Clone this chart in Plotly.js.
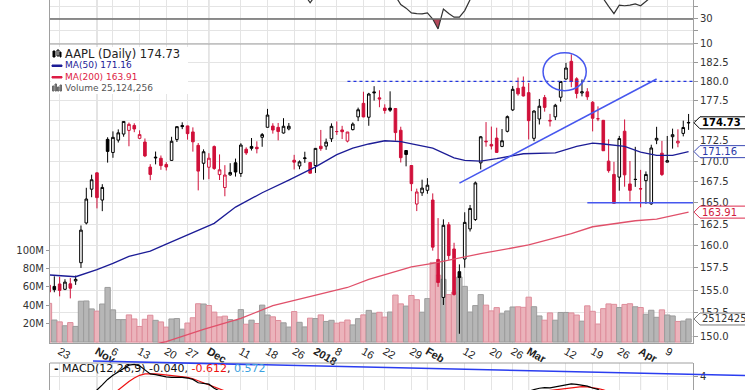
<!DOCTYPE html>
<html><head><meta charset="utf-8">
<script src="https://cdn.plot.ly/plotly-3.0.1.min.js"></script>
<style>html,body{margin:0;padding:0;background:#fff;}#chart{width:745px;height:390px;}</style>
</head><body><div id="chart"></div>
<script>
// ---------------- DATA ----------------
const dates = [
'2017-10-19','2017-10-20','2017-10-23','2017-10-24','2017-10-25','2017-10-26','2017-10-27','2017-10-30','2017-10-31',
'2017-11-01','2017-11-02','2017-11-03','2017-11-06','2017-11-07','2017-11-08','2017-11-09','2017-11-10','2017-11-13','2017-11-14','2017-11-15','2017-11-16','2017-11-17','2017-11-20','2017-11-21','2017-11-22','2017-11-24','2017-11-27','2017-11-28','2017-11-29','2017-11-30',
'2017-12-01','2017-12-04','2017-12-05','2017-12-06','2017-12-07','2017-12-08','2017-12-11','2017-12-12','2017-12-13','2017-12-14','2017-12-15','2017-12-18','2017-12-19','2017-12-20','2017-12-21','2017-12-22','2017-12-26','2017-12-27','2017-12-28','2017-12-29',
'2018-01-02','2018-01-03','2018-01-04','2018-01-05','2018-01-08','2018-01-09','2018-01-10','2018-01-11','2018-01-12','2018-01-16','2018-01-17','2018-01-18','2018-01-19','2018-01-22','2018-01-23','2018-01-24','2018-01-25','2018-01-26','2018-01-29','2018-01-30','2018-01-31',
'2018-02-01','2018-02-02','2018-02-05','2018-02-06','2018-02-07','2018-02-08','2018-02-09','2018-02-12','2018-02-13','2018-02-14','2018-02-15','2018-02-16','2018-02-20','2018-02-21','2018-02-22','2018-02-23','2018-02-26','2018-02-27','2018-02-28',
'2018-03-01','2018-03-02','2018-03-05','2018-03-06','2018-03-07','2018-03-08','2018-03-09','2018-03-12','2018-03-13','2018-03-14','2018-03-15','2018-03-16','2018-03-19','2018-03-20','2018-03-21','2018-03-22','2018-03-23','2018-03-26','2018-03-27','2018-03-28','2018-03-29',
'2018-04-02','2018-04-03','2018-04-04','2018-04-05','2018-04-06','2018-04-09','2018-04-10','2018-04-11','2018-04-12','2018-04-13'];

const open = [
155.56,155.42,155.69,155.10,155.71,156.03,158.08,162.64,166.62,
168.58,165.33,172.67,171.06,172.58,173.33,173.78,174.40,172.80,172.34,169.28,170.49,170.35,169.60,170.09,172.66,174.39,174.34,173.59,171.93,169.74,
169.26,171.78,168.37,166.82,168.34,169.80,168.51,171.45,171.80,171.70,172.93,174.17,174.32,174.16,173.46,173.97,170.11,169.41,170.31,169.83,
169.47,171.83,171.84,172.74,173.64,173.84,172.46,173.88,175.47,177.18,175.43,178.64,177.88,176.58,176.58,176.53,173.80,171.30,169.47,164.86,166.19,
166.49,165.33,158.45,154.20,162.43,159.64,157.07,158.50,161.95,163.04,169.79,172.36,172.05,172.83,171.80,173.67,176.35,179.10,179.26,
178.54,172.80,175.21,177.91,174.94,175.48,177.96,180.29,182.59,180.32,178.50,178.65,177.32,175.24,175.04,170.00,168.39,168.07,173.68,167.25,167.81,
166.64,167.64,164.88,172.58,170.97,169.88,173.00,172.23,173.41,174.78];
const high = [
155.88,156.55,156.49,156.22,156.35,156.63,162.35,166.79,168.36,
168.65,167.22,172.93,173.66,173.91,174.90,174.76,174.67,173.79,172.78,169.63,171.17,170.69,169.87,172.99,174.29,174.79,174.37,174.16,172.22,171.44,
170.97,171.92,170.82,169.51,169.75,170.31,172.19,171.69,172.84,172.43,173.46,176.48,174.68,174.71,175.31,174.71,170.77,170.09,171.15,169.90,
171.60,173.84,172.77,174.66,174.90,174.35,173.59,174.78,176.64,178.66,178.52,179.37,178.85,177.06,178.71,176.58,174.24,171.30,169.47,166.69,167.76,
167.94,166.12,163.21,163.06,162.74,160.35,157.89,163.89,164.75,167.54,173.09,174.82,174.26,174.12,173.95,175.65,179.39,180.48,180.62,
179.78,176.30,177.74,178.25,175.85,177.12,180.00,182.39,183.50,180.52,180.24,179.12,177.47,176.80,175.09,172.68,169.92,173.10,175.15,170.02,171.75,
168.94,168.75,172.01,174.23,172.48,173.09,174.00,173.92,175.00,175.84];
const low = [
153.84,154.77,154.32,155.01,154.09,155.59,157.49,162.47,165.67,
164.35,164.02,169.82,170.41,172.28,173.00,171.82,173.56,172.70,170.49,167.70,169.61,168.95,168.87,170.09,172.35,173.94,172.64,171.16,166.48,167.76,
167.82,168.94,167.72,165.78,168.22,168.13,168.10,170.76,171.30,170.95,171.76,174.15,173.38,172.55,173.39,173.79,168.99,169.02,169.79,168.53,
168.57,171.26,171.38,172.35,173.22,172.71,172.30,173.78,174.94,175.42,174.36,177.53,176.69,175.88,176.10,172.50,169.84,169.37,166.39,164.03,165.82,
166.08,159.45,155.37,153.37,158.42,154.40,150.24,157.51,161.65,162.88,169.00,171.77,171.42,171.01,171.71,173.54,176.21,178.16,178.05,
172.66,172.45,174.52,176.13,174.27,175.07,177.39,180.21,179.24,177.81,178.07,177.62,173.66,174.94,171.26,168.60,164.94,166.44,166.92,165.19,166.90,
164.47,164.88,164.77,172.08,168.20,169.85,171.53,171.70,173.04,173.85];
const close = [
154.79,155.06,154.98,155.90,155.22,156.21,161.81,165.45,167.75,
165.62,166.83,171.19,172.92,173.48,174.90,174.54,173.96,173.26,170.64,168.39,170.41,169.46,169.29,172.44,174.25,174.26,173.38,172.37,168.79,171.15,
170.36,169.11,168.95,168.32,168.63,168.68,171.97,171.00,171.57,171.52,173.26,175.70,173.83,173.64,174.30,174.30,169.88,169.91,170.39,168.54,
171.56,171.53,172.33,174.29,173.64,173.62,173.58,174.57,176.37,175.47,178.37,178.53,177.74,176.28,176.32,173.51,170.42,170.81,167.28,166.29,166.75,
167.10,159.85,155.85,162.37,158.89,154.52,156.41,162.71,164.34,167.37,172.99,172.43,171.85,171.07,172.50,175.50,178.97,178.39,178.12,
175.00,176.21,176.82,176.67,175.03,176.94,179.98,181.72,179.97,178.44,178.65,178.02,175.30,175.24,171.27,168.85,164.94,172.77,168.34,166.48,167.78,
166.68,168.39,171.61,172.80,168.38,170.05,173.25,172.44,174.14,174.73];
// volume, millions of shares
const volume = [
42.1,23.97,21.98,17.76,21.21,17.03,44.45,44.70,36.05,
33.64,41.39,59.40,35.03,24.42,24.41,29.53,25.13,16.98,24.78,29.20,23.64,21.90,16.26,25.13,25.59,14.03,20.72,26.43,41.67,41.39,
39.76,32.54,27.35,28.22,24.47,23.38,35.27,19.41,23.82,20.22,40.17,29.42,27.44,23.48,20.95,16.35,33.19,21.50,16.48,25.99,
25.56,29.52,22.43,23.66,20.57,21.58,23.96,18.67,25.42,29.57,34.45,31.25,32.37,27.11,32.69,51.11,41.53,39.14,50.64,46.05,32.48,
47.23,86.59,72.74,68.24,51.61,54.39,70.67,60.56,32.70,39.67,51.61,40.18,33.93,37.47,30.81,33.81,38.16,38.36,37.78,
48.80,38.45,28.40,23.79,31.70,23.79,32.19,32.21,31.68,29.37,22.74,39.40,33.45,19.65,36.34,41.49,41.03,37.54,40.92,41.67,38.40,
37.59,30.28,34.61,26.93,35.01,29.47,28.40,22.43,22.89,25.124256];

const ma50Dates = ['2017-10-19','2017-10-26','2017-11-01','2017-11-06','2017-11-09','2017-11-15','2017-11-20','2017-11-24','2017-11-29','2017-12-04','2017-12-08','2017-12-15','2017-12-22','2018-01-02','2018-01-08','2018-01-11','2018-01-17','2018-01-22','2018-01-25','2018-02-02','2018-02-08','2018-02-12','2018-02-15','2018-02-21','2018-02-28','2018-03-08','2018-03-14','2018-03-19','2018-03-21','2018-03-27','2018-04-02','2018-04-05','2018-04-10','2018-04-13'];
const ma50Values = [156.7,156.5,157.3,158.0,158.8,159.4,160.2,161.0,161.8,162.6,164.5,166.2,167.7,169.3,170.8,171.6,172.1,172.5,172.4,171.6,170.4,170.1,170.0,170.3,170.9,171.0,171.8,172.2,172.1,171.8,171.1,170.7,170.7,171.16];
const ma200Dates = ['2017-11-14','2017-11-20','2017-11-30','2017-12-11','2017-12-19','2018-01-02','2018-01-10','2018-01-17','2018-01-29','2018-02-02','2018-02-15','2018-03-01','2018-03-13','2018-03-19','2018-03-29','2018-04-05','2018-04-13'];
const ma200Values = [148.9,149.4,150.7,151.9,153.3,154.4,155.3,156.2,157.6,158.0,159.1,160.1,161.4,162.2,162.9,163.1,163.91];

const rsiDates = ['2017-12-27','2017-12-28','2017-12-29','2018-01-02','2018-01-03','2018-01-04',
'2018-01-23','2018-01-24','2018-01-25','2018-01-26','2018-01-29','2018-01-30','2018-01-31','2018-02-01','2018-02-02','2018-02-05','2018-02-06','2018-02-07','2018-02-08','2018-02-09','2018-02-12','2018-02-13','2018-02-14','2018-02-15','2018-02-16',
'2018-03-20','2018-03-21','2018-03-22','2018-03-23','2018-03-26','2018-03-27','2018-03-28','2018-03-29','2018-04-02','2018-04-03','2018-04-04','2018-04-05','2018-04-06'];
const rsiValues = [55,50,43.5,51,56,null,
56,49,42,39,35,34.5,34.2,35,30,21.7,38.3,34.5,31.5,31.5,37,46,52,58,null,
55,47,40.5,34.5,41.5,41,41.5,42.5,41,44,47,52,56];

// MACD(12,26,9): two visible stretches
const macdDatesA = ['2017-10-31','2017-11-01','2017-11-02','2017-11-03','2017-11-06','2017-11-07','2017-11-08','2017-11-09','2017-11-10','2017-11-13','2017-11-14','2017-11-15','2017-11-16','2017-11-17','2017-11-20','2017-11-21','2017-11-22','2017-11-24','2017-11-27','2017-11-28','2017-11-29','2017-11-30','2017-12-01','2017-12-04','2017-12-05','2017-12-06'];
const macdA   = [2.5,2.97,3.35,3.75,4.05,4.3,4.6,4.8,4.85,4.75,4.45,4.15,4.1,4.0,3.93,3.9,3.92,3.9,3.85,3.75,3.5,3.45,3.4,3.1,2.9,2.7];
const signalA = [1.6,1.85,2.05,2.3,2.65,2.97,3.3,3.6,3.85,4.05,4.15,4.18,4.16,4.12,4.08,4.03,3.99,3.95,3.9,3.8,3.65,3.5,3.35,3.2,3.05,2.9];
const macdDatesB = ['2018-02-28','2018-03-01','2018-03-02','2018-03-05','2018-03-06','2018-03-07','2018-03-08','2018-03-09','2018-03-12','2018-03-13','2018-03-14','2018-03-15','2018-03-16','2018-03-19','2018-03-20','2018-03-21','2018-03-22'];
const macdB   = [2.75,2.9,3.0,3.1,3.15,3.12,3.2,3.3,3.38,3.42,3.38,3.32,3.26,3.12,3.02,2.7,2.4];
const signalB = [2.7,2.75,2.8,2.85,2.88,2.9,2.95,3.0,3.08,3.15,3.2,3.22,3.2,3.15,3.08,2.98,2.85];

const tickDates = ['2017-10-23','2017-11-01','2017-11-06','2017-11-13','2017-11-20','2017-11-27','2017-12-01','2017-12-11','2017-12-18','2017-12-26','2018-01-02','2018-01-08','2018-01-16','2018-01-22','2018-01-29','2018-02-01','2018-02-12','2018-02-20','2018-02-26','2018-03-01','2018-03-12','2018-03-19','2018-03-26','2018-04-02','2018-04-09'];
const tickLabels = ['23','Nov','6','13','20','27','Dec','11','18','26','2018','8','16','22','29','Feb','12','20','26','Mar','12','19','26','Apr','9'];
const monthStarts = ['Nov','Dec','2018','Feb','Mar','Apr'];

const priceTicks = [150,152.5,155,157.5,160,162.5,165,167.5,170,172.5,175,177.5,180,182.5];
const hiddenPriceTicks = [175];   // covered by the last-price tag
const volTicks = [20,40,60,80,100];

const lastClose = 174.73, lastMA50 = 171.16, lastMA200 = 163.91, lastVolume = 25124256;
const macdTitle = ['-0.040','-0.612','0.572'];

// user drawn annotations (data coords)
const resistanceLevel = 180.0, resistanceFrom = '2018-01-10';
const supportLevel = 165.0, supportFrom = '2018-03-16';
const trendFrom = ['2018-02-09',167.35], trendTo = ['2018-04-05',180.3];
const ringDates = ['2018-03-06','2018-03-16'], ringPrices = [178.8,183.7];

// ---------------- BUILD ----------------
const N = dates.length;
const xi = d => dates.indexOf(d);
const xs = dates.map((d,i)=>i);
const isRed = close.map((c,i)=> i===0 ? c<open[i] : c<close[i-1]);
const RED='#d0103a', BLACK='#000';

function candleSet(flag,color){
  const o={x:[],open:[],high:[],low:[],close:[]};
  for(let i=0;i<N;i++) if(isRed[i]===flag){o.x.push(i);o.open.push(open[i]);o.high.push(high[i]);o.low.push(low[i]);o.close.push(close[i]);}
  return Object.assign(o,{type:'candlestick',xaxis:'x',yaxis:'y2',whiskerwidth:0,hoverinfo:'skip',showlegend:false,
    increasing:{line:{color:color,width:1},fillcolor:'#ffffff'},
    decreasing:{line:{color:color,width:1},fillcolor:color}});
}

const traces=[];
traces.push({type:'bar',x:xs,y:volume,xaxis:'x',yaxis:'y',hoverinfo:'skip',showlegend:false,
  marker:{color:xs.map(i=>isRed[i]?'#ebb3bb':'#b6b6b6'),line:{color:xs.map(i=>isRed[i]?'#de8d9b':'#9c9c9c'),width:1}}});
traces.push({type:'scatter',mode:'lines',x:ma200Dates.map(xi),y:ma200Values,xaxis:'x',yaxis:'y2',line:{color:'#e0506a',width:1.3},hoverinfo:'skip',showlegend:false});
traces.push({type:'scatter',mode:'lines',x:ma50Dates.map(xi),y:ma50Values,xaxis:'x',yaxis:'y2',line:{color:'#1c1c96',width:1.3},hoverinfo:'skip',showlegend:false});
traces.push(candleSet(false,BLACK));
traces.push(candleSet(true,RED));

// RSI fill below 30
const rx=rsiDates.map(xi);
const fx=[],fy=[];
for(let k=1;k<rx.length;k++){
  const a=rsiValues[k-1],b=rsiValues[k];
  if(a==null||b==null) continue;
  if(a>=30&&b>=30) continue;
  let xa=rx[k-1],ya=a,xb=rx[k],yb=b;
  if(a>30){xa=rx[k-1]+(a-30)/(a-b)*(rx[k]-rx[k-1]);ya=30;}
  if(b>30){xb=rx[k-1]+(a-30)/(a-b)*(rx[k]-rx[k-1]);yb=30;}
  fx.push(xa,xa,xb,xb,null);fy.push(30,ya,yb,30,null);
}
traces.push({type:'scatter',mode:'lines',x:fx,y:fy,fill:'toself',fillcolor:'#b4475a',line:{width:0},xaxis:'x',yaxis:'y4',hoverinfo:'skip',showlegend:false});
traces.push({type:'scatter',mode:'lines',x:rx,y:rsiValues,xaxis:'x',yaxis:'y4',line:{color:'#333',width:1.2},connectgaps:false,hoverinfo:'skip',showlegend:false});

// MACD
[[macdDatesA,macdA,signalA],[macdDatesB,macdB,signalB]].forEach(([d,m,s])=>{
  const x=d.map(xi);
  traces.push({type:'scatter',mode:'lines',x:x,y:s,xaxis:'x',yaxis:'y3',line:{color:'#ee1111',width:1.2},hoverinfo:'skip',showlegend:false});
  traces.push({type:'scatter',mode:'lines',x:x,y:m,xaxis:'x',yaxis:'y3',line:{color:'#000',width:1.2},hoverinfo:'skip',showlegend:false});
});

// ---------------- LAYOUT ----------------
const W=745,H=390,L=50,R=52;
const PW=W-L-R;
const py=p=>(H-p)/H, pxp=p=>(p-L)/PW;
const mainDom=[py(343),py(44)], rsiDom=[py(44),1], macdDom=[0,py(363)];
const GRID='#e4e4e4', BORDER='#a0a0a0', TXT='#333';
const F='DejaVu Sans, Verdana, sans-serif';

const tickX=tickDates.map(xi);
const tickT=tickLabels.map(t=>monthStarts.includes(t)?'<b>'+t+'</b>':t);

const shapes=[];
// white box behind legend
shapes.push({type:'rect',xref:'paper',yref:'paper',x0:pxp(51),x1:pxp(188),y0:py(47),y1:py(94),line:{width:0},fillcolor:'#ffffff',layer:'above'});
// darker month grid lines in each panel
tickLabels.forEach((t,k)=>{ if(!monthStarts.includes(t)) return;
  ['y domain','y3 domain','y4 domain'].forEach(r=>shapes.push({type:'line',xref:'x',yref:r,x0:tickX[k],x1:tickX[k],y0:0,y1:1,line:{color:'#c4c4c4',width:1},layer:'below'}));
});
// panel borders
shapes.push({type:'line',xref:'paper',yref:'paper',x0:0,x1:1,y0:mainDom[1],y1:mainDom[1],line:{color:BORDER,width:1}});
shapes.push({type:'line',xref:'paper',yref:'paper',x0:0,x1:1,y0:macdDom[1],y1:macdDom[1],line:{color:BORDER,width:1}});
// RSI 30 line
shapes.push({type:'line',xref:'paper',yref:'y4',x0:0,x1:1,y0:30,y1:30,line:{color:'#6a6a6a',width:1.5}});
// user drawn lines
const BLUE='#4657ee';
shapes.push({type:'line',xref:'x',yref:'y2',x0:xi(resistanceFrom),x1:N,y0:resistanceLevel,y1:resistanceLevel,line:{color:'#2436e0',width:1.2,dash:'dot'}});
shapes.push({type:'line',xref:'x',yref:'y2',x0:xi(supportFrom),x1:N,y0:supportLevel,y1:supportLevel,line:{color:BLUE,width:1.5}});
shapes.push({type:'line',xref:'x',yref:'y2',x0:xi(trendFrom[0]),x1:xi(trendTo[0]),y0:trendFrom[1],y1:trendTo[1],line:{color:BLUE,width:1.5}});
shapes.push({type:'circle',xref:'x',yref:'y2',x0:xi(ringDates[0])-0.3,x1:xi(ringDates[1])-0.2,y0:ringPrices[0],y1:ringPrices[1],line:{color:BLUE,width:1.5}});
// MACD panel trendline (drawn across panel edge)
shapes.push({type:'line',xref:'paper',yref:'paper',x0:pxp(93),y0:py(361),x1:pxp(745),y1:py(375.5),line:{color:'#2a3df0',width:1.5}});

// right-hand value tags
function tag(yref,val,color){
  shapes.push({type:'path',xref:'paper',yref:yref,xsizemode:'pixel',ysizemode:'pixel',xanchor:1,yanchor:val,
    path:'M1,0 L7,-6 L54,-6 L54,6 L7,6 Z',line:{color:color,width:1},fillcolor:'#ffffff',layer:'above'});
}
tag('y2',lastClose,'#000');
tag('y2',lastMA50,'#3b48b4');
tag('y2',lastMA200,'#dd2a4c');
tag('y',lastVolume/1e6,'#7a7a7a');

const annotations=[];
function tagText(yref,y,text,color,bold){
  annotations.push({xref:'paper',yref:yref,x:1,y:y,xanchor:'left',yanchor:'middle',xshift:7,showarrow:false,
    text:bold?'<b>'+text+'</b>':text,font:{family:F,size:10,color:color}});
}
tagText('y2',Math.log10(lastClose),lastClose.toFixed(2),'#000',true);
tagText('y2',Math.log10(lastMA50),lastMA50.toFixed(2),'#2a38a8',false);
tagText('y2',Math.log10(lastMA200),lastMA200.toFixed(2),'#d01c40',false);
tagText('y',lastVolume/1e6,String(lastVolume),'#333',false);

// legend text (top-left of price panel)
function leg(ypx,text,size){annotations.push({xref:'paper',yref:'paper',x:pxp(63),y:py(ypx),xanchor:'left',yanchor:'middle',showarrow:false,text:text,font:{family:F,size:size,color:'#222'}});}
leg(54,'AAPL (Daily) '+lastClose.toFixed(2),11.5);
leg(65.5,'<span style="color:#1c1c96">MA(50) '+lastMA50.toFixed(2)+'</span>',9);
leg(77,'<span style="color:#dd1c44">MA(200) '+lastMA200.toFixed(2)+'</span>',9);
leg(88.5,'<span style="color:#555">Volume '+lastVolume.toLocaleString('en-US')+'</span>',9);
// legend icons
const icon=(x0,x1,y0,y1,c,f)=>shapes.push({type:'rect',xref:'paper',yref:'paper',x0:pxp(x0),x1:pxp(x1),y0:py(y0),y1:py(y1),line:{color:c,width:1},fillcolor:f,layer:'above'});
icon(53,55,51,57,'#000','#000');icon(57,59,50,56,'#000','#fff');icon(60,61,52,57,'#000','#000');
icon(52,62,65,66.5,'#1c1c96','#1c1c96');
icon(52,62,76.5,78,'#dd1c44','#dd1c44');
icon(52.5,54,86,91,'#666','#888');icon(55,56.5,84,91,'#666','#888');icon(57.5,59,87,91,'#666','#888');icon(60,61.5,85,91,'#666','#888');
// MACD title
annotations.push({xref:'paper',yref:'paper',x:pxp(52),y:py(368),xanchor:'left',yanchor:'middle',showarrow:false,
  text:'<b>-</b> MACD(12,26,9) '+macdTitle[0]+', <span style="color:#ee1111">'+macdTitle[1]+'</span>, <span style="color:#3aa0e0">'+macdTitle[2]+'</span>',
  font:{family:F,size:11,color:'#111'}});

const xRange=[0.19,120.83];
const layout={
  width:W,height:H,margin:{l:L,r:R,t:0,b:0,pad:0},paper_bgcolor:'#fff',plot_bgcolor:'#fff',
  font:{family:F,size:10,color:TXT},showlegend:false,bargap:0,boxgap:0.3,
  xaxis:{range:xRange,anchor:'y',tickmode:'array',tickvals:tickX,ticktext:tickT,showgrid:true,gridcolor:GRID,gridwidth:1,
    zeroline:false,showline:true,linecolor:BORDER,ticks:'',ticklabelstandoff:-3,tickfont:{family:'Arial, Liberation Sans, sans-serif',size:11,color:'#222'},
    rangeslider:{visible:false},fixedrange:true},
  yaxis:{domain:mainDom,range:[-1,324],side:'left',tickmode:'array',tickvals:volTicks,ticktext:volTicks.map(v=>v+'M'),
    showgrid:false,zeroline:false,showline:true,mirror:true,linecolor:BORDER,ticks:'outside',ticklen:3,tickcolor:'#999',
    tickfont:{family:F,size:10,color:TXT},fixedrange:true},
  yaxis2:{overlaying:'y',side:'right',type:'log',range:[Math.log10(149.25),Math.log10(184.87)],tickmode:'array',tickvals:priceTicks,
    ticktext:priceTicks.map(v=>hiddenPriceTicks.includes(v)?'':v.toFixed(1)),showgrid:true,gridcolor:GRID,zeroline:false,showline:false,ticks:'outside',ticklen:4,tickcolor:'#999',
    tickfont:{family:F,size:10,color:TXT},fixedrange:true},
  yaxis3:{domain:macdDom,anchor:'x',side:'right',range:[2.97,4.956],tickmode:'array',tickvals:[4],ticktext:['4'],showgrid:true,gridcolor:GRID,
    zeroline:false,showline:true,mirror:true,linecolor:BORDER,ticks:'outside',ticklen:4,tickcolor:'#999',tickfont:{family:F,size:10,color:TXT},fixedrange:true},
  yaxis4:{domain:rsiDom,anchor:'x',side:'right',range:[9.17,45.8],tickmode:'array',tickvals:[10,20,30,40],ticktext:['10','','30',''],showgrid:true,gridcolor:GRID,
    zeroline:false,showline:true,mirror:true,linecolor:BORDER,ticks:'outside',ticklen:4,tickcolor:'#999',tickfont:{family:F,size:10,color:TXT},fixedrange:true},
  shapes:shapes,annotations:annotations
};
Plotly.newPlot('chart',traces,layout,{staticPlot:true,displayModeBar:false});
</script></body></html>
